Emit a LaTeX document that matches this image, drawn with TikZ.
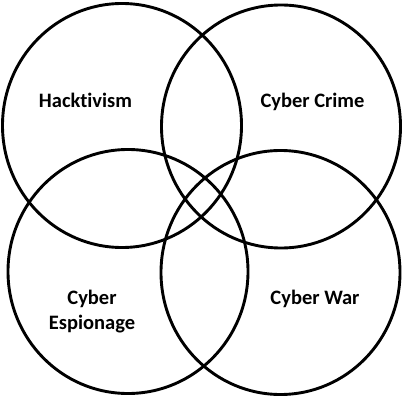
\documentclass[tikz,border=0pt]{standalone}
\usepackage{fontspec}
\setmainfont{Carlito}[Ligatures={NoCommon,NoRare,NoContextual}]
\usepackage{xcolor}
\definecolor{vennline}{RGB}{0, 0, 0}
\tikzset{
  venn/.style={vennline, line width=2.9pt},
  vennlabel/.style={font=\bfseries\fontsize{20.5}{25}\selectfont, align=center}
}

\begin{document}
\begin{tikzpicture}[x=1pt,y=-1pt]
                \useasboundingbox (0,0) rectangle (403,396);

                % Upper circles
                \draw[venn] (122,125.5) ellipse (119.5 and 122);
                \draw[venn] (281,126.5) ellipse (119.5 and 121.5);

                % Lower circles
                \draw[venn] (128,271.5) ellipse (120 and 122);
                \draw[venn] (280.5,272.5) ellipse (119.5 and 122);

                \node[vennlabel] (hack) at (85.5,100) {Hacktivism};
                \node[vennlabel] (crime) at (312.5,102) {Cyber Crime};
                \node[vennlabel] (espionage) at (92,311.5) {Cyber\\Espionage};
                \node[vennlabel] (war) at (315,299) {Cyber War};
            \end{tikzpicture}
\end{document}
